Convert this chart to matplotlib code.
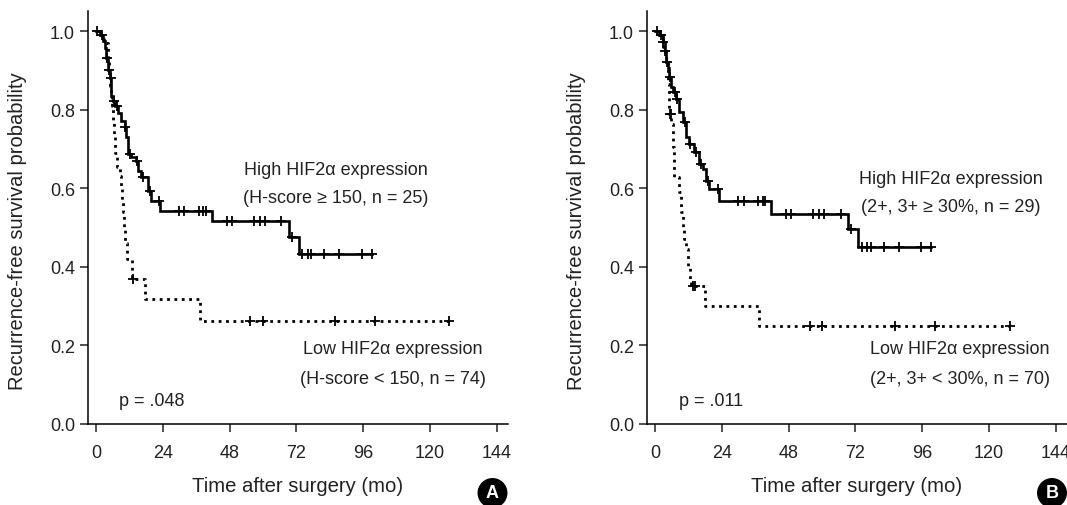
import numpy as np
import matplotlib
matplotlib.use("Agg")
import matplotlib.pyplot as plt

plt.rcParams['font.family'] = ['Liberation Sans', 'DejaVu Sans']

# PANEL A - H-score
a_high_times = [1.5, 2.5, 3.2, 3.7, 4.3, 4.9, 5.5, 6.1, 7.0, 7.9, 9.1, 10.3, 10.9, 11.5,
                12.7, 14.5, 15.1, 16.3, 18.7, 19.9, 23.0, 41.8, 69.3, 72.9]
a_high_surv = [0.99, 0.975, 0.958, 0.93, 0.90, 0.88, 0.835, 0.822, 0.81, 0.79, 0.771, 0.755,
               0.73, 0.687, 0.678, 0.67, 0.644, 0.627, 0.593, 0.568, 0.542, 0.515, 0.476, 0.432]
a_high_cens = [0.3, 2.2, 3.9, 4.8, 5.3, 6.6, 7.4, 10.5, 12.3, 14.8, 17.0, 19.4, 22.5,
               29.8, 31.7, 37.0, 38.5, 39.5, 46.9, 48.7, 56.8, 58.9, 60.7, 66.4, 70.5,
               74.1, 76.0, 77.4, 82.0, 87.3, 95.4, 99.2]

a_low_times = [1.0, 2.0, 3.0, 4.3, 4.6, 5.0, 5.4, 5.8, 6.2, 6.6, 7.0, 7.4, 8.6, 9.0, 9.4,
               9.8, 10.2, 10.6, 11.0, 12.8, 17.6, 37.3]
a_low_surv = [0.99, 0.98, 0.97, 0.93, 0.89, 0.86, 0.84, 0.81, 0.77, 0.73, 0.69, 0.653, 0.63,
              0.606, 0.57, 0.538, 0.50, 0.46, 0.419, 0.368, 0.317, 0.262]
a_low_cens = [13.4, 55.5, 60.1, 85.8, 100.2, 126.8]

# PANEL B - 2+, 3+ percentage
b_high_times = [1.5, 2.9, 3.5, 4.0, 4.6, 5.2, 5.8, 6.4, 7.6, 8.8, 10.0, 11.2, 12.4, 14.2,
                16.0, 17.1, 18.3, 19.5, 23.1, 41.7, 69.4, 73.0]
b_high_surv = [0.99, 0.971, 0.95, 0.92, 0.907, 0.882, 0.857, 0.844, 0.827, 0.793, 0.767,
               0.729, 0.712, 0.691, 0.661, 0.648, 0.619, 0.597, 0.566, 0.535, 0.496, 0.449]
b_high_cens = [0.6, 2.3, 3.0, 3.6, 4.2, 5.4, 7.1, 7.8, 10.7, 12.5, 14.9, 16.7, 19.0, 22.6,
               30.0, 31.9, 37.1, 38.7, 39.5, 47.0, 48.8, 56.8, 58.9, 60.7, 66.7, 70.5,
               74.2, 76.0, 77.6, 82.1, 87.5, 95.6, 99.0]

b_low_times = [1.0, 2.0, 3.0, 4.0, 4.6, 5.2, 5.8, 6.4, 7.0, 8.8, 9.4, 10.0, 10.6, 11.3,
               11.9, 12.5, 13.1, 17.9, 37.5]
b_low_surv = [0.99, 0.98, 0.96, 0.93, 0.865, 0.789, 0.763, 0.704, 0.627, 0.589, 0.538,
              0.495, 0.47, 0.445, 0.402, 0.368, 0.351, 0.30, 0.249]
b_low_cens = [5.3, 5.6, 13.7, 14.3, 55.6, 60.1, 86.3, 100.6, 127.4]

xticks = [0, 24, 48, 72, 96, 120, 144]
yticks = [0.0, 0.2, 0.4, 0.6, 0.8, 1.0]

TXT = '#222222'


# SURVIVAL VALUE AT A GIVEN TIME
def km_value(t, times, surv):
    idx = np.searchsorted(times, t, side='right') - 1
    return 1.0 if idx < 0 else surv[idx]


def draw_curve(ax, times, surv, cens, ls):
    end = max(cens[-1], times[-1])
    x = [0] + list(times) + [end]
    y = [1.0] + list(surv) + [surv[-1]]
    ax.plot(x, y, drawstyle='steps-post', color='black', lw=2 if ls == ':' else 1.9,
            linestyle=ls, solid_joinstyle='miter')
    cy = [km_value(t, times, surv) for t in cens]
    ax.plot(cens, cy, linestyle='none', marker='+', ms=7, mew=1.3, color='black')


def setup_axes(ax):
    ax.set_xlim(-3, 148)
    ax.set_ylim(0, 1.05)
    ax.spines['top'].set_visible(False)
    ax.spines['right'].set_visible(False)
    for s in ['left', 'bottom']:
        ax.spines[s].set_linewidth(1.1)
    ax.set_xticks(xticks)
    ax.set_yticks(yticks)
    ax.set_yticklabels(['%.1f' % v for v in yticks])
    ax.tick_params(direction='out', length=6, width=1.1, labelsize=13,
                   color=TXT, labelcolor=TXT)
    ax.tick_params(axis='x', pad=9)
    ax.tick_params(axis='y', pad=3)
    ax.set_xlabel('Time after surgery (mo)', fontsize=14.6, color=TXT)
    ax.set_ylabel('Recurrence-free survival probability', fontsize=14.5, color=TXT)
    ax.xaxis.set_label_coords(0.5, -0.128)
    ax.yaxis.set_label_coords(-0.145, 0.47)


fig = plt.figure(figsize=(10.67, 5.06), dpi=100)
axA = fig.add_axes([0.0821, 0.161, 0.394, 0.8145])
axB = fig.add_axes([0.606, 0.161, 0.394, 0.8145])

draw_curve(axA, a_low_times, a_low_surv, a_low_cens, ':')
draw_curve(axA, a_high_times, a_high_surv, a_high_cens, '-')
draw_curve(axB, b_low_times, b_low_surv, b_low_cens, ':')
draw_curve(axB, b_high_times, b_high_surv, b_high_cens, '-')

for ax in [axA, axB]:
    setup_axes(ax)

tkw = dict(fontsize=13, color=TXT, ha='center', va='center')
axA.text(86.2, 0.647, 'High HIF2\u03b1 expression', **tkw)
axA.text(86.2, 0.576, '(H-score \u2265 150, n = 25)', **tkw)
axA.text(106.5, 0.19, 'Low HIF2\u03b1 expression', **tkw)
axA.text(106.5, 0.116, '(H-score < 150, n = 74)', **tkw)
axA.text(8.3, 0.059, 'p = .048', fontsize=13, color=TXT, ha='left', va='center')

axB.text(106.3, 0.625, 'High HIF2\u03b1 expression', **tkw)
axB.text(106.3, 0.554, '(2+, 3+ \u2265 30%, n = 29)', **tkw)
axB.text(109.6, 0.19, 'Low HIF2\u03b1 expression', **tkw)
axB.text(109.6, 0.116, '(2+, 3+ < 30%, n = 70)', **tkw)
axB.text(8.7, 0.059, 'p = .011', fontsize=13, color=TXT, ha='left', va='center')

# PANEL LETTERS
for xf, letter in [(492.5 / 1067, 'A'), (1052 / 1067, 'B')]:
    fig.text(xf, 1 - 494 / 506, letter, fontsize=13, fontweight='bold', color='white',
             ha='center', va='center',
             bbox=dict(boxstyle='circle,pad=0.32', fc='black', ec='black'))

plt.savefig('out.png', dpi=100)
